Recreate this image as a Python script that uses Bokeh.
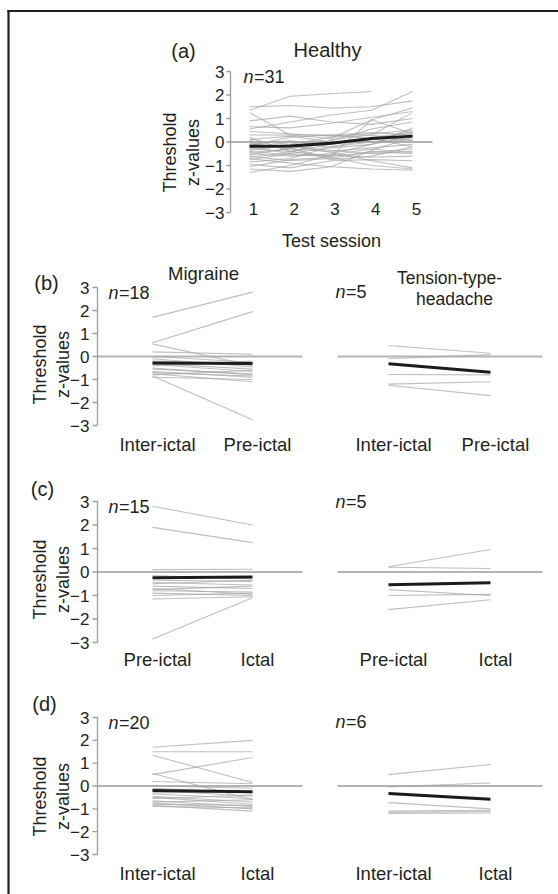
import math
from bokeh.plotting import figure
from bokeh.models import Range1d
from bokeh.embed import file_html
from bokeh.resources import INLINE
from bokeh.core.properties import value

# ---------------- data ----------------
sessions = [1, 2, 3, 4, 5]
session_labels = ["1", "2", "3", "4", "5"]

healthy_z = [
    [1.35, 1.95, 2.05, 2.15, None],
    [1.50, 1.55, 1.45, 1.50, 1.75],
    [1.25, 0.30, 0.15, 0.95, 1.45],
    [0.90, 1.10, 0.85, 0.75, 1.00],
    [0.55, 0.85, 1.15, 1.35, 2.15],
    [0.45, 0.35, 0.25, 0.35, 0.50],
    [0.30, 0.30, 0.30, 0.40, 0.30],
    [0.20, -0.40, -0.60, 0.95, 0.35],
    [0.10, 0.25, 0.00, 0.00, 0.20],
    [0.05, -0.10, 0.20, 0.30, 1.25],
    [-0.05, -0.30, -0.40, -0.25, -0.10],
    [-0.15, 0.20, 0.30, 0.15, -0.20],
    [-0.20, -0.50, -0.20, 0.00, 0.10],
    [-0.25, -0.20, -0.35, -0.50, -0.40],
    [-0.30, -0.40, -0.10, 0.20, 0.40],
    [-0.35, -0.15, -0.45, -0.80, -1.10],
    [-0.40, -0.55, -0.60, -0.45, -0.30],
    [-0.45, -0.30, 0.05, 0.55, 0.85],
    [-0.50, -0.60, -0.50, -0.10, 0.25],
    [-0.55, -0.25, -0.75, -0.60, -0.20],
    [-0.60, -0.80, -0.70, -0.40, -0.50],
    [-0.65, -0.45, 0.10, 0.30, 0.05],
    [-0.70, -0.90, -1.05, -1.15, -1.20],
    [-0.75, -0.50, -0.55, -0.65, -0.60],
    [-0.85, -0.70, -0.20, 0.10, 0.45],
    [-0.95, -1.10, -0.80, -0.75, -0.80],
    [-1.05, -0.75, -0.65, -1.00, -1.15],
    [-1.15, -1.25, -1.05, -0.35, 0.20],
    [-1.30, -1.00, -0.55, -0.30, -0.45],
    [-0.10, 0.05, -0.25, -0.10, 0.60],
    [0.65, 0.60, 0.80, 1.05, 1.30],
]
healthy_mean = [-0.18, -0.17, -0.05, 0.15, 0.25]

pair_x = [1, 2]

# (b) Inter-ictal vs Pre-ictal
mig_b_labels = ["Inter-ictal", "Pre-ictal"]
mig_b = [
    [1.70, 2.80], [0.60, 1.95], [0.55, -0.40], [0.20, 0.10], [0.00, -0.25],
    [-0.10, -0.45], [-0.20, -0.30], [-0.30, -0.55], [-0.35, -0.65], [-0.40, -0.20],
    [-0.50, -0.80], [-0.55, -0.75], [-0.65, -0.90], [-0.70, -0.85], [-0.75, -1.10],
    [-0.80, -0.60], [-0.85, -2.75], [-0.90, -1.00],
]
mig_b_mean = [-0.28, -0.30]
tth_b = [[0.48, 0.14], [-0.10, 0.09], [-0.78, -0.80], [-1.20, -1.10], [-1.25, -1.70]]
tth_b_mean = [-0.32, -0.68]

# (c) Pre-ictal vs Ictal
mig_c_labels = ["Pre-ictal", "Ictal"]
mig_c = [
    [2.80, 2.00], [1.90, 1.25], [0.10, 0.12], [-0.15, -0.30], [-0.35, -0.40],
    [-0.45, -0.55], [-0.50, -0.35], [-0.60, -0.70], [-0.70, -0.95], [-0.75, -0.60],
    [-0.80, -0.85], [-0.90, -1.00], [-1.00, -0.90], [-1.15, -1.05], [-2.85, -1.10],
]
mig_c_mean = [-0.24, -0.21]
tth_c = [[0.22, 0.96], [0.20, 0.15], [-0.75, -1.00], [-1.00, -0.95], [-1.60, -1.18]]
tth_c_mean = [-0.54, -0.46]

# (d) Inter-ictal vs Ictal
mig_d_labels = ["Inter-ictal", "Ictal"]
mig_d = [
    [1.70, 2.00], [1.50, 1.50], [1.35, 0.15], [0.50, 1.25], [0.55, -0.60],
    [0.20, 0.10], [0.00, -0.10], [-0.10, -0.30], [-0.20, -0.45], [-0.30, -0.25],
    [-0.35, -0.55], [-0.45, -0.70], [-0.50, -0.80], [-0.55, -0.40], [-0.65, -0.90],
    [-0.70, -0.60], [-0.75, -1.00], [-0.80, -0.85], [-0.85, -1.10], [-0.90, -0.95],
]
mig_d_mean = [-0.20, -0.25]
tth_d = [[0.50, 0.94], [-0.04, 0.13], [-0.73, -1.00], [-1.10, -1.06], [-1.20, -1.18], [-1.15, -1.12]]
tth_d_mean = [-0.33, -0.58]

y_ticks = [-3, -2, -1, 0, 1, 2, 3]
y_tick_text = ["\u22123", "\u22122", "\u22121", "0", "1", "2", "3"]

# ---------------- styling ----------------
FONT = value("Liberation Sans")
INK = "#231f20"
GREY = "#a4a4a4"
AXIS = "#9c9c9c"
W, H = 558, 894

p = figure(width=W, height=H, x_range=Range1d(0, W), y_range=Range1d(H, 0),
           x_axis_location=None, y_axis_location=None,
           output_backend="svg", toolbar_location=None,
           min_border_left=0, min_border_right=0, min_border_top=0, min_border_bottom=0)
p.outline_line_color = None
p.background_fill_color = "white"
p.border_fill_color = "white"
p.xgrid.grid_line_color = None
p.ygrid.grid_line_color = None
p.grid.visible = False

# figure frame (cropped border of the original figure)
p.segment(x0=[7], y0=[10.5], x1=[W], y1=[10.5], line_color=INK, line_width=2.2)
p.segment(x0=[8], y0=[9.5], x1=[8], y1=[H], line_color=INK, line_width=2.2)


class Panel:
    def __init__(self, name, fl, ft, fr, fb, x0, x1):
        self.name, self.fl, self.ft, self.fr, self.fb = name, fl, ft, fr, fb
        self.x0, self.x1 = x0, x1
        self.ux = (fr - fl) / (x1 - x0)
        self.uy = (fb - ft) / 6.0
        p.extra_x_ranges[name] = Range1d(x0 - fl / self.ux, x0 + (W - fl) / self.ux)
        p.extra_y_ranges[name] = Range1d(-3 - (H - fb) / self.uy, 3 + ft / self.uy)
        self.kw = dict(x_range_name=name, y_range_name=name)

    def dx(self, px):
        return self.x0 + (px - self.fl) / self.ux

    def dy(self, py):
        return 3 - (py - self.ft) / self.uy

    def zero_line(self):
        p.segment(x0=[self.x0], y0=[0], x1=[self.x1], y1=[0], line_color="#b4b4b4",
                  line_width=1.8, **self.kw)

    def yaxis(self, tick_len=5, gap=3):
        p.segment(x0=[self.x0], y0=[-3], x1=[self.x0], y1=[3], line_color=AXIS,
                  line_width=1.3, **self.kw)
        p.ray(x=[self.x0] * len(y_ticks), y=y_ticks, length=tick_len, length_units="screen",
              angle=math.pi, line_color=AXIS, line_width=1.3, **self.kw)
        p.text(x=[self.x0] * len(y_ticks), y=y_ticks, text=y_tick_text,
               x_offset=-(tick_len + gap), text_align="right", text_baseline="middle",
               text_font=FONT, text_font_size="17px", text_color=INK, **self.kw)

    def lines(self, xs_base, rows, mean):
        xs, ys = [], []
        for r in rows:
            pts = [(x, v) for x, v in zip(xs_base, r) if v is not None]
            xs.append([a for a, _ in pts])
            ys.append([b for _, b in pts])
        p.multi_line(xs=xs, ys=ys, line_color=GREY, line_alpha=0.7, line_width=1.1, **self.kw)
        p.line(xs_base, mean, line_color="#1c1c1c", line_width=3, **self.kw)

    def cats(self, labels, py, xoff=5):
        p.text(x=pair_x, y=[self.dy(py)] * 2, text=labels, x_offset=xoff,
               text_align="center", text_baseline="alphabetic", text_font=FONT,
               text_font_size="18.5px", text_color=INK, **self.kw)

    def put(self, px, py, text, size="18px", style="normal", align="left", angle=0.0):
        p.text(x=[self.dx(px)], y=[self.dy(py)], text=[text], angle=angle,
               text_align=align, text_baseline="alphabetic", text_font=FONT,
               text_font_size=size, text_font_style=style, text_color=INK, **self.kw)

    def n_label(self, px, py, num):
        self.put(px, py, "n", style="italic")
        self.put(px + 10.5, py, "=" + str(num))

    def ylabel(self, x1, x2, cy):
        self.put(x1, cy, "Threshold", align="center", angle=math.pi / 2)
        self.put(x2, cy, "z-values", align="center", angle=math.pi / 2)


# ---------------- panel (a) ----------------
A = Panel("a", 230, 71, 432, 212, 0.5337, 5.491)
A.zero_line()
A.yaxis(tick_len=4, gap=2)
A.lines(sessions, healthy_z, healthy_mean)
p.text(x=sessions, y=[A.dy(208)] * len(sessions), text=session_labels, x_offset=4,
       text_align="center", text_baseline="alphabetic", text_font=FONT,
       text_font_size="17px", text_color=INK, **A.kw)
A.put(183, 50, "(a)", size="20px", align="center")
A.put(327, 49.5, "Healthy", size="20px", align="center")
A.n_label(243, 76, len(healthy_z))
A.ylabel(169, 192, 152)
A.put(331, 240, "Test session", align="center")

# ---------------- panels (b)-(d) ----------------
specs = [
    ("b", 287, 425, 443.5, mig_b_labels, mig_b, mig_b_mean, tth_b, tth_b_mean),
    ("c", 501, 642, 658.5, mig_c_labels, mig_c, mig_c_mean, tth_c, tth_c_mean),
    ("d", 717, 854, 872.5, mig_d_labels, mig_d, mig_d_mean, tth_d, tth_d_mean),
]
panels = {}
for key, ft, fb, lab_y, labs, mig, mmean, tth, tmean in specs:
    L = Panel(key + "L", 97, ft, 302, fb, 0.45, 2.5)
    R = Panel(key + "R", 337, ft, 542, fb, 0.5, 2.51)
    for P_ in (L, R):
        P_.zero_line()
        P_.cats(labs, lab_y)
    L.yaxis()
    L.lines(pair_x, mig, mmean)
    R.lines(pair_x, tth, tmean)
    panels[key] = (L, R)

L, R = panels["b"]
L.put(46, 282, "(b)", size="20px", align="center")
L.put(203, 273, "Migraine", size="18.5px", align="center")
L.n_label(108, 292, len(mig_b))
L.ylabel(39, 62.5, 364)
R.put(449, 277, "Tension-type-", size="17.5px", align="center")
R.put(454, 298, "headache", size="17.5px", align="center")
R.n_label(335, 291, len(tth_b))

L, R = panels["c"]
L.put(42, 488, "(c)", size="20px", align="center")
L.n_label(108, 506, len(mig_c))
L.ylabel(39, 62.5, 579)
R.n_label(335, 501, len(tth_c))

L, R = panels["d"]
L.put(44, 703, "(d)", size="20px", align="center")
L.n_label(108, 722, len(mig_d))
L.ylabel(39, 62.5, 796)
R.n_label(335, 721, len(tth_d))

open("out.html", "w").write(file_html(p, INLINE))
